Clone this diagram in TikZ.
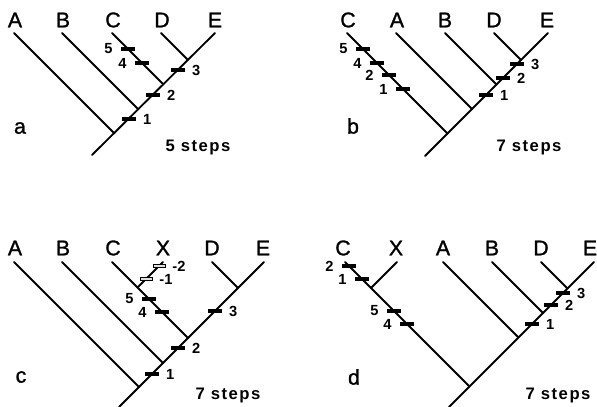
\documentclass[tikz,border=0pt]{standalone}
\usepackage{fontspec}
\setmainfont{Liberation Sans}
\newfontfamily\stepsfont[LetterSpace=9]{Liberation Sans Bold}
\newfontfamily\taxonfont[FakeBold=1.2]{Liberation Sans}
\usetikzlibrary{positioning}

\begin{document}
\begin{tikzpicture}[x=0.75pt, y=-0.75pt,
  branch/.style={line width=1.4pt, line cap=round},
  taxon/.style={font=\taxonfont\fontsize{16}{16}\selectfont, inner sep=0pt},
  panel/.style={font=\taxonfont\fontsize{16}{16}\selectfont, inner sep=0pt},
  steps/.style={font=\stepsfont\fontsize{12.5}{13}\selectfont, inner sep=0pt},
  bar/.style={rectangle, fill=black, minimum width=10.5pt, minimum height=3pt, inner sep=0pt},
  openbar/.style={rectangle, draw=black, fill=gray!25, line width=0.7pt, minimum width=9pt, minimum height=2.5pt, inner sep=0pt},
  num/.style={font=\bfseries\fontsize{11}{11}\selectfont, inner sep=0pt}]
\useasboundingbox (0,0) rectangle (597,407);

% -- Panel a: 5 steps --
\node[taxon] (aLA) at (15,20) {A};
\node[taxon] (aLB) at (63,20) {B};
\node[taxon] (aLC) at (113,20) {C};
\node[taxon] (aLD) at (162,20) {D};
\node[taxon] (aLE) at (215,20) {E};
\coordinate (aA) at (14,33);
\coordinate (aB) at (62,33);
\coordinate (aC) at (112,33);
\coordinate (aD) at (161,33);
\coordinate (aE) at (215,33);
\coordinate (aroot) at (92,155);
\coordinate (ajA) at (114.5,133.5);
\coordinate (ajB) at (138.5,109.5);
\coordinate (ajC) at (163.5,84.5);
\coordinate (ajD) at (188,60);
\draw[branch] (aE) -- (aroot);
\draw[branch] (aA) -- (ajA);
\draw[branch] (aB) -- (ajB);
\draw[branch] (aC) -- (ajC);
\draw[branch] (aD) -- (ajD);
% steps on the trunk
\node[bar] (a1) at (129,119) {};
\node[bar] (a2) at (153,95) {};
\node[bar] (a3) at (178,70) {};
\node[num, right=5pt of a1] (a1l) {1};
\node[num, right=5pt of a2] (a2l) {2};
\node[num, right=5pt of a3] (a3l) {3};
% steps on C
\node[bar] (a4) at (142,63) {};
\node[bar] (a5) at (128,49) {};
\node[num, left=6pt of a4] (a4l) {4};
\node[num, left=6pt of a5] (a5l) {5};
\node[panel] (alab) at (20,128) {a};
\node[steps] (asteps) at (198,147) {5 steps};

% -- Panel b: 7 steps --
\node[taxon] (bLC) at (348,20) {C};
\node[taxon] (bLA) at (397,20) {A};
\node[taxon] (bLB) at (445,20) {B};
\node[taxon] (bLD) at (494,20) {D};
\node[taxon] (bLE) at (547,20) {E};
\coordinate (bC) at (347,33);
\coordinate (bA) at (396,33);
\coordinate (bB) at (445,33);
\coordinate (bD) at (494,33);
\coordinate (bE) at (548,33);
\coordinate (broot) at (425,156);
\coordinate (bjC) at (447.5,133.5);
\coordinate (bjA) at (472,109);
\coordinate (bjB) at (496.5,84.5);
\coordinate (bjD) at (521,60);
\draw[branch] (bE) -- (broot);
\draw[branch] (bC) -- (bjC);
\draw[branch] (bA) -- (bjA);
\draw[branch] (bB) -- (bjB);
\draw[branch] (bD) -- (bjD);
% steps on C
\node[bar] (b5) at (363,49) {};
\node[bar] (b4) at (377,63) {};
\node[bar] (b2c) at (389,75) {};
\node[bar] (b1c) at (403,89) {};
\node[num, left=6pt of b5] (b5l) {5};
\node[num, left=6pt of b4] (b4l) {4};
\node[num, left=6pt of b2c] (b2cl) {2};
\node[num, left=6pt of b1c] (b1cl) {1};
% steps on the trunk
\node[bar] (b1) at (486,95) {};
\node[bar] (b2) at (503,78) {};
\node[bar] (b3) at (517,64) {};
\node[num, right=5pt of b1] (b1l) {1};
\node[num, right=5pt of b2] (b2l) {2};
\node[num, right=5pt of b3] (b3l) {3};
\node[panel] (blab) at (353,126) {b};
\node[steps] (bsteps) at (529,147) {7 steps};

% -- Panel c: X joins C --
\node[taxon] (cLA) at (15,248) {A};
\node[taxon] (cLB) at (63,248) {B};
\node[taxon] (cLC) at (113,248) {C};
\node[taxon] (cLX) at (163,248) {X};
\node[taxon] (cLD) at (212,248) {D};
\node[taxon] (cLE) at (263,248) {E};
\coordinate (cA) at (14,262);
\coordinate (cB) at (62,262);
\coordinate (cC) at (112,262);
\coordinate (cX) at (163,262);
\coordinate (cD) at (212,262);
\coordinate (cE) at (264,262);
\coordinate (croot) at (119,407);
\coordinate (cjA) at (139,387);
\coordinate (cjB) at (163,363);
\coordinate (cjC) at (188,338);
\coordinate (cjD) at (238,288);
\coordinate (cjX) at (137.5,287.5);
\draw[branch] (cE) -- (croot);
\draw[branch] (cA) -- (cjA);
\draw[branch] (cB) -- (cjB);
\draw[branch] (cC) -- (cjC);
\draw[branch] (cD) -- (cjD);
\draw[branch] (cX) -- (cjX);
% reversals on X
\node[openbar] (cm2) at (159,266) {};
\node[openbar] (cm1) at (146,279) {};
\node[num, right=5pt of cm2] (cm2l) {-2};
\node[num, right=5pt of cm1] (cm1l) {-1};
% steps on C
\node[bar] (c5) at (149,299) {};
\node[bar] (c4) at (162,312) {};
\node[num, left=6pt of c5] (c5l) {5};
\node[num, left=6pt of c4] (c4l) {4};
% steps on the trunk
\node[bar] (c3) at (215,311) {};
\node[bar] (c2) at (178,348) {};
\node[bar] (c1) at (152,374) {};
\node[num, right=5pt of c3] (c3l) {3};
\node[num, right=5pt of c2] (c2l) {2};
\node[num, right=5pt of c1] (c1l) {1};
\node[panel] (clab) at (21,377) {c};
\node[steps] (csteps) at (228,395) {7 steps};

% -- Panel d: C and X together --
\node[taxon] (dLC) at (343,248) {C};
\node[taxon] (dLX) at (396,248) {X};
\node[taxon] (dLA) at (443,248) {A};
\node[taxon] (dLB) at (492,248) {B};
\node[taxon] (dLD) at (541,248) {D};
\node[taxon] (dLE) at (590,248) {E};
\coordinate (dC) at (345,262);
\coordinate (dX) at (397,262);
\coordinate (dA) at (443,262);
\coordinate (dB) at (492,262);
\coordinate (dD) at (541,262);
\coordinate (dE) at (594,262);
\coordinate (droot) at (449,407);
\coordinate (djC) at (469.5,386.5);
\coordinate (djX) at (371,288);
\coordinate (djA) at (518.5,337.5);
\coordinate (djB) at (543,313);
\coordinate (djD) at (567.5,288.5);
\draw[branch] (dE) -- (droot);
\draw[branch] (dC) -- (djC);
\draw[branch] (dX) -- (djX);
\draw[branch] (dA) -- (djA);
\draw[branch] (dB) -- (djB);
\draw[branch] (dD) -- (djD);
% steps on C
\node[bar] (d2c) at (349,266) {};
\node[bar] (d1c) at (362,279) {};
\node[bar] (d5) at (394,311) {};
\node[bar] (d4) at (407,324) {};
\node[num, left=6pt of d2c] (d2cl) {2};
\node[num, left=6pt of d1c] (d1cl) {1};
\node[num, left=6pt of d5] (d5l) {5};
\node[num, left=6pt of d4] (d4l) {4};
% steps on the trunk
\node[bar] (d1) at (532,324) {};
\node[bar] (d2) at (551,305) {};
\node[bar] (d3) at (563,293) {};
\node[num, right=5pt of d1] (d1l) {1};
\node[num, right=5pt of d2] (d2l) {2};
\node[num, right=5pt of d3] (d3l) {3};
\node[panel] (dlab) at (354,377) {d};
\node[steps] (dsteps) at (558,395) {7 steps};
\end{tikzpicture}
\end{document}
